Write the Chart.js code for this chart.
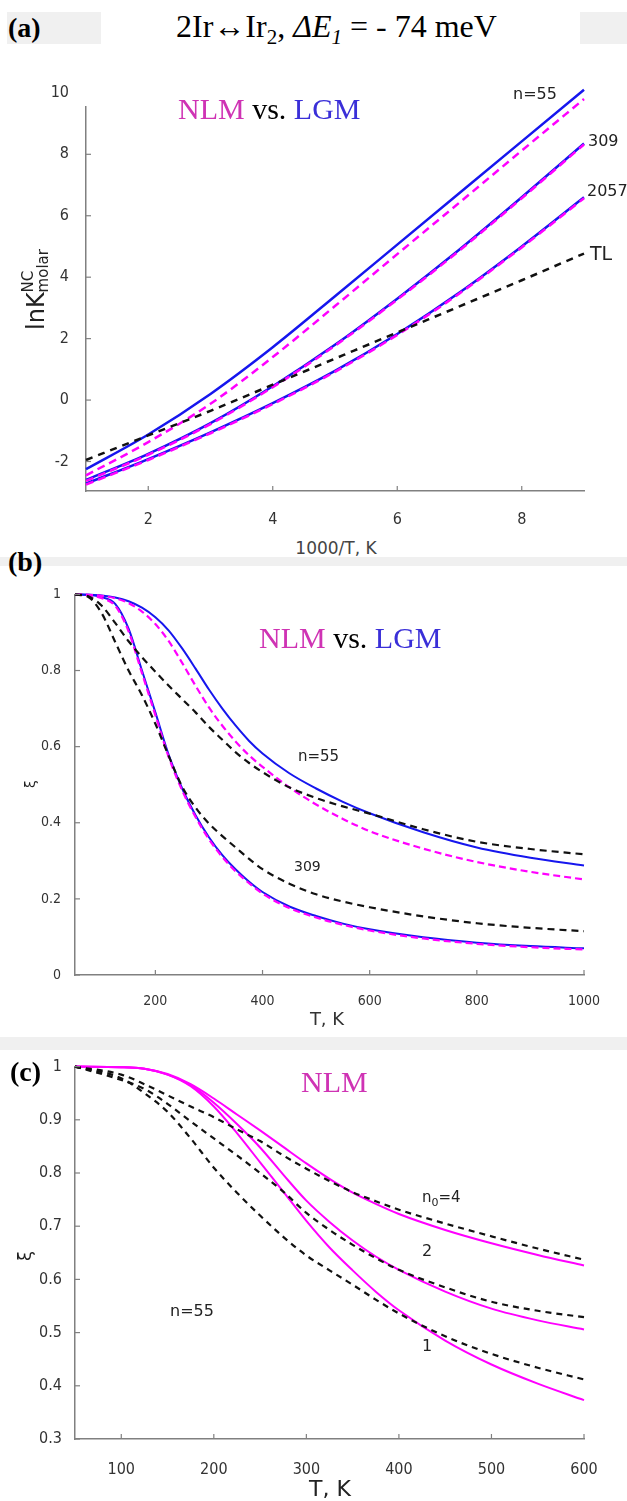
<!DOCTYPE html>
<html>
<head>
<meta charset="utf-8">
<script src="https://cdn.jsdelivr.net/npm/chart.js@4.4.0/dist/chart.umd.min.js"></script>
<style>
  body { margin: 0; background: #fff; }
  #page { position: relative; width: 627px; height: 1501px; overflow: hidden; }
  .band { position: absolute; background: #f0f0f0; }
  canvas { position: absolute; left: 0; }
  .t { position: absolute; white-space: nowrap; line-height: 1; }
  .serif { font-family: "Liberation Serif", "DejaVu Serif", serif; color: #000; }
  .sans { font-family: "DejaVu Sans", sans-serif; color: #222; }
  .nlm { color: #cf33b4; }
  .lgm { color: #3a2fd8; }
  .c { transform: translateX(-50%); }
</style>
</head>
<body>
<div id="page">
  <div class="band" style="left:7px;top:12px;width:94px;height:32px"></div>
  <div class="band" style="left:580px;top:12px;width:47px;height:32px"></div>
  <div class="band" style="left:0;top:557px;width:627px;height:9px"></div>
  <div class="band" style="left:0;top:1037px;width:627px;height:13px"></div>

  <canvas id="chartA" width="627" height="470" style="top:60px"></canvas>
  <canvas id="chartB" width="627" height="430" style="top:580px"></canvas>
  <canvas id="chartC" width="627" height="449" style="top:1052px"></canvas>

  <div class="t serif" style="left:8px;top:14px;font-size:28px;font-weight:bold">(a)</div>
  <div class="t serif" style="left:176px;top:10px;font-size:32px">2Ir&#8596;Ir<sub style="font-size:21px">2</sub>, <i>&#916;E<sub style="font-size:21px">1</sub></i> = - 74 meV</div>
  <div class="t serif" style="left:178px;top:94px;font-size:30px"><span class="nlm">NLM</span> vs. <span class="lgm">LGM</span></div>
  <div class="t sans" style="left:513px;top:86px;font-size:16px">n=55</div>
  <div class="t sans" style="left:588px;top:133px;font-size:16px">309</div>
  <div class="t sans" style="left:587px;top:183px;font-size:16px">2057</div>
  <div class="t sans" style="left:590px;top:244px;font-size:19px">TL</div>
  <div class="t sans c" style="left:336px;top:540px;font-size:17px;color:#444">1000/T, K</div>

  <div class="t serif" style="left:8px;top:548px;font-size:28px;font-weight:bold">(b)</div>
  <div class="t serif" style="left:259px;top:623px;font-size:30px"><span class="nlm">NLM</span> vs. <span class="lgm">LGM</span></div>
  <div class="t sans" style="left:298px;top:749px;font-size:15px">n=55</div>
  <div class="t sans" style="left:294px;top:859px;font-size:14px">309</div>
  <div class="t sans c" style="left:327px;top:1010px;font-size:18px;color:#333">T, K</div>

  <div class="t serif" style="left:10px;top:1058px;font-size:28px;font-weight:bold">(c)</div>
  <div class="t serif nlm" style="left:301px;top:1067px;font-size:30px">NLM</div>
  <div class="t sans" style="left:422px;top:1190px;font-size:15px">n<sub style="font-size:11px">0</sub>=4</div>
  <div class="t sans" style="left:422px;top:1243px;font-size:16px">2</div>
  <div class="t sans" style="left:422px;top:1338px;font-size:16px">1</div>
  <div class="t sans" style="left:170px;top:1303px;font-size:16px">n=55</div>
  <div class="t sans c" style="left:330px;top:1478px;font-size:22px;color:#222">T, K</div>
</div>

<script>
// ---- panel (a): ln K vs 1000/T ----
const aX = [1, 2, 3, 4, 5, 6, 7, 8, 9];
const aLgm55   = [-2.25, -1.12, 0.2, 1.72, 3.38, 5.06, 6.74, 8.42, 10.1];
const aNlm55   = [-2.45, -1.37, -0.12, 1.4, 3.06, 4.75, 6.43, 8.12, 9.8];
const aLgm309  = [-2.6, -1.75, -0.75, 0.45, 1.8, 3.3, 4.9, 6.6, 8.35];
const aNlm309  = [-2.63, -1.78, -0.78, 0.42, 1.77, 3.27, 4.87, 6.57, 8.32];
const aLgm2057 = [-2.72, -1.92, -1.05, -0.1, 0.95, 2.15, 3.5, 5.0, 6.6];
const aNlm2057 = [-2.75, -1.95, -1.08, -0.13, 0.92, 2.12, 3.47, 4.97, 6.57];
const aTL      = [-1.95, -1.15, -0.35, 0.5, 1.35, 2.2, 3.05, 3.9, 4.77];
const aXTicks = [2, 4, 6, 8];
const aYTicks = [-2, 0, 2, 4, 6, 8, 10];

// ---- panel (b): xi vs T, n=55 and 309 ----
const bT = [50, 75, 100, 125, 150, 175, 200, 225, 250, 275, 300, 325, 350, 375, 400, 450, 500, 550, 600, 700, 800, 900, 1000];
const bLgm55  = [1.0, 0.999, 0.997, 0.992, 0.982, 0.965, 0.94, 0.905, 0.858, 0.805, 0.75, 0.70, 0.655, 0.615, 0.582, 0.53, 0.49, 0.455, 0.425, 0.375, 0.335, 0.308, 0.288];
const bNlm55  = [1.0, 0.999, 0.996, 0.99, 0.977, 0.955, 0.922, 0.877, 0.82, 0.76, 0.703, 0.655, 0.613, 0.577, 0.547, 0.493, 0.448, 0.41, 0.378, 0.332, 0.297, 0.271, 0.251];
const bTl55   = [1.0, 0.995, 0.97, 0.925, 0.877, 0.835, 0.797, 0.76, 0.725, 0.69, 0.652, 0.618, 0.585, 0.557, 0.533, 0.493, 0.465, 0.443, 0.424, 0.383, 0.35, 0.331, 0.317];
const bLgm309 = [1.0, 0.999, 0.993, 0.975, 0.91, 0.80, 0.69, 0.578, 0.49, 0.42, 0.362, 0.315, 0.277, 0.245, 0.218, 0.18, 0.155, 0.135, 0.12, 0.099, 0.085, 0.076, 0.07];
const bNlm309 = [1.0, 0.998, 0.99, 0.97, 0.903, 0.793, 0.683, 0.572, 0.485, 0.415, 0.357, 0.31, 0.272, 0.241, 0.214, 0.176, 0.151, 0.132, 0.117, 0.096, 0.082, 0.073, 0.067];
const bTl309  = [1.0, 0.993, 0.95, 0.875, 0.80, 0.735, 0.66, 0.575, 0.495, 0.44, 0.398, 0.365, 0.335, 0.305, 0.278, 0.24, 0.212, 0.193, 0.178, 0.154, 0.136, 0.124, 0.115];
const bXTicks = [200, 400, 600, 800, 1000];
const bYTicks = [0, 0.2, 0.4, 0.6, 0.8, 1];

// ---- panel (c): xi vs T, n=55, n0 = 1, 2, 4 ----
const cT = [50, 100, 125, 150, 175, 200, 225, 250, 275, 300, 325, 350, 375, 400, 450, 500, 550, 600];
const cNlm4 = [1.0, 0.999, 0.996, 0.986, 0.967, 0.94, 0.91, 0.88, 0.849, 0.818, 0.789, 0.763, 0.742, 0.723, 0.693, 0.668, 0.646, 0.626];
const cNlm2 = [1.0, 0.999, 0.996, 0.985, 0.965, 0.932, 0.892, 0.848, 0.797, 0.748, 0.708, 0.673, 0.643, 0.618, 0.577, 0.545, 0.523, 0.506];
const cNlm1 = [1.0, 0.999, 0.996, 0.985, 0.963, 0.925, 0.875, 0.82, 0.765, 0.71, 0.66, 0.617, 0.577, 0.542, 0.485, 0.44, 0.404, 0.373];
const cTl4  = [1.0, 0.985, 0.967, 0.946, 0.925, 0.905, 0.882, 0.86, 0.833, 0.808, 0.785, 0.764, 0.747, 0.731, 0.705, 0.681, 0.658, 0.637];
const cTl2  = [1.0, 0.975, 0.958, 0.93, 0.897, 0.865, 0.833, 0.80, 0.765, 0.725, 0.693, 0.665, 0.64, 0.618, 0.585, 0.558, 0.541, 0.529];
const cTl1  = [1.0, 0.978, 0.95, 0.915, 0.865, 0.81, 0.763, 0.72, 0.68, 0.645, 0.617, 0.59, 0.562, 0.536, 0.493, 0.46, 0.434, 0.412];
const cXTicks = [100, 200, 300, 400, 500, 600];
const cYTicks = [0.3, 0.4, 0.5, 0.6, 0.7, 0.8, 0.9, 1];

const BLUE = '#1616ee';
const MAGENTA = '#ff00ff';
const BLACK = '#111111';
const AXIS = '#808080';
const TICKFONT = '"DejaVu Sans Condensed", "DejaVu Sans", sans-serif';

function line(xs, ys, color, dash, width) {
    return {
        data: xs.map((x, i) => ({ x: x, y: ys[i] })),
        borderColor: color,
        borderWidth: width,
        borderDash: dash,
        pointRadius: 0,
        fill: false,
        clip: false,
        cubicInterpolationMode: 'monotone'
    };
}

// short tick marks pointing into the plot, like the original figure
const innerTicks = {
    id: 'innerTicks',
    afterDraw(chart) {
        const { ctx, chartArea, scales } = chart;
        ctx.save();
        ctx.strokeStyle = AXIS;
        ctx.lineWidth = 1.2;
        scales.x.ticks.forEach(t => {
            if (t.value < scales.x.min || t.value > scales.x.max) return;
            const px = scales.x.getPixelForValue(t.value);
            ctx.beginPath();
            ctx.moveTo(px, chartArea.bottom);
            ctx.lineTo(px, chartArea.bottom - 5);
            ctx.stroke();
        });
        scales.y.ticks.forEach(t => {
            if (t.value < scales.y.min || t.value > scales.y.max) return;
            const py = scales.y.getPixelForValue(t.value);
            ctx.beginPath();
            ctx.moveTo(chartArea.left, py);
            ctx.lineTo(chartArea.left + 5, py);
            ctx.stroke();
        });
        ctx.restore();
    }
};

// rotated y axis titles
const yTitle = {
    id: 'yTitle',
    afterDraw(chart, args, opts) {
        const ctx = chart.ctx;
        ctx.save();
        ctx.translate(opts.x, opts.y);
        ctx.rotate(-Math.PI / 2);
        ctx.fillStyle = '#222';
        if (opts.kind === 'lnK') {
            ctx.font = '24px "DejaVu Sans", sans-serif';
            ctx.textBaseline = 'alphabetic';
            ctx.fillText('lnK', 0, 0);
            const w = ctx.measureText('lnK').width;
            ctx.font = '15px "DejaVu Sans", sans-serif';
            ctx.fillText('NC', w, -11);
            ctx.fillText('molar', w, 4);
        } else {
            ctx.font = opts.size + 'px "DejaVu Sans", sans-serif';
            ctx.textAlign = 'center';
            ctx.textBaseline = 'middle';
            ctx.fillText('\u03BE', 0, 0);
        }
        ctx.restore();
    }
};

function makeChart(id, datasets, cfg) {
    return new Chart(document.getElementById(id), {
        type: 'line',
        data: { datasets: datasets },
        plugins: [innerTicks, yTitle],
        options: {
            responsive: false,
            animation: false,
            devicePixelRatio: 1,
            layout: { padding: { left: 0, right: 43, top: cfg.top, bottom: 0 } },
            plugins: {
                legend: { display: false },
                tooltip: { enabled: false },
                yTitle: cfg.title
            },
            scales: {
                x: {
                    type: 'linear',
                    min: cfg.xMin, max: cfg.xMax,
                    grid: { display: false },
                    border: { color: AXIS, width: 1.5 },
                    afterBuildTicks: s => { s.ticks = cfg.xTicks.map(v => ({ value: v })); },
                    afterFit: s => { s.height = cfg.xH; },
                    ticks: {
                        color: '#333', padding: cfg.xPad,
                        font: { family: TICKFONT, size: cfg.font },
                        callback: v => String(v)
                    }
                },
                y: {
                    type: 'linear',
                    min: cfg.yMin, max: cfg.yMax,
                    grid: { display: false },
                    border: { color: AXIS, width: 1.5 },
                    afterBuildTicks: s => { s.ticks = cfg.yTicks.map(v => ({ value: v })); },
                    afterFit: s => { s.width = cfg.yW; },
                    ticks: {
                        color: '#333', padding: cfg.yPad,
                        font: { family: TICKFONT, size: cfg.font },
                        callback: v => String(v)
                    }
                }
            }
        }
    });
}

makeChart('chartA', [
    line(aX, aTL, BLACK, [7, 6], 2.5),
    line(aX, aNlm55, MAGENTA, [8, 5], 2.5),
    line(aX, aNlm309, MAGENTA, [8, 5], 2.5),
    line(aX, aNlm2057, MAGENTA, [8, 5], 2.5),
    line(aX, aLgm55, BLUE, [], 2.5),
    line(aX, aLgm309, BLUE, [], 2.5),
    line(aX, aLgm2057, BLUE, [], 2.5)
], {
    top: 47, xMin: 1, xMax: 9, yMin: -2.96, yMax: 9.54,
    xTicks: aXTicks, yTicks: aYTicks, xH: 39, yW: 86,
    xPad: 11, yPad: 9, font: 16,
    title: { kind: 'lnK', x: 44, y: 270 }
});

makeChart('chartB', [
    line(bT, bTl55, BLACK, [7, 5], 2.2),
    line(bT, bTl309, BLACK, [7, 5], 2.2),
    line(bT, bNlm55, MAGENTA, [7, 4], 2.2),
    line(bT, bNlm309, MAGENTA, [7, 4], 2.2),
    line(bT, bLgm55, BLUE, [], 2),
    line(bT, bLgm309, BLUE, [], 2)
], {
    top: 13, xMin: 50, xMax: 1000, yMin: 0, yMax: 1,
    xTicks: bXTicks, yTicks: bYTicks, xH: 35, yW: 75,
    xPad: 10, yPad: 6, font: 14,
    title: { kind: 'xi', x: 31, y: 204, size: 14 }
});

makeChart('chartC', [
    line(cT, cTl4, BLACK, [6, 5], 2.2),
    line(cT, cTl2, BLACK, [6, 5], 2.2),
    line(cT, cTl1, BLACK, [6, 5], 2.2),
    line(cT, cNlm4, MAGENTA, [], 2),
    line(cT, cNlm2, MAGENTA, [], 2),
    line(cT, cNlm1, MAGENTA, [], 2)
], {
    top: 13, xMin: 50, xMax: 600, yMin: 0.3, yMax: 1,
    xTicks: cXTicks, yTicks: cYTicks, xH: 62, yW: 75,
    xPad: 13, yPad: 5, font: 16,
    title: { kind: 'xi', x: 26, y: 204, size: 18 }
});
</script>
</body>
</html>
